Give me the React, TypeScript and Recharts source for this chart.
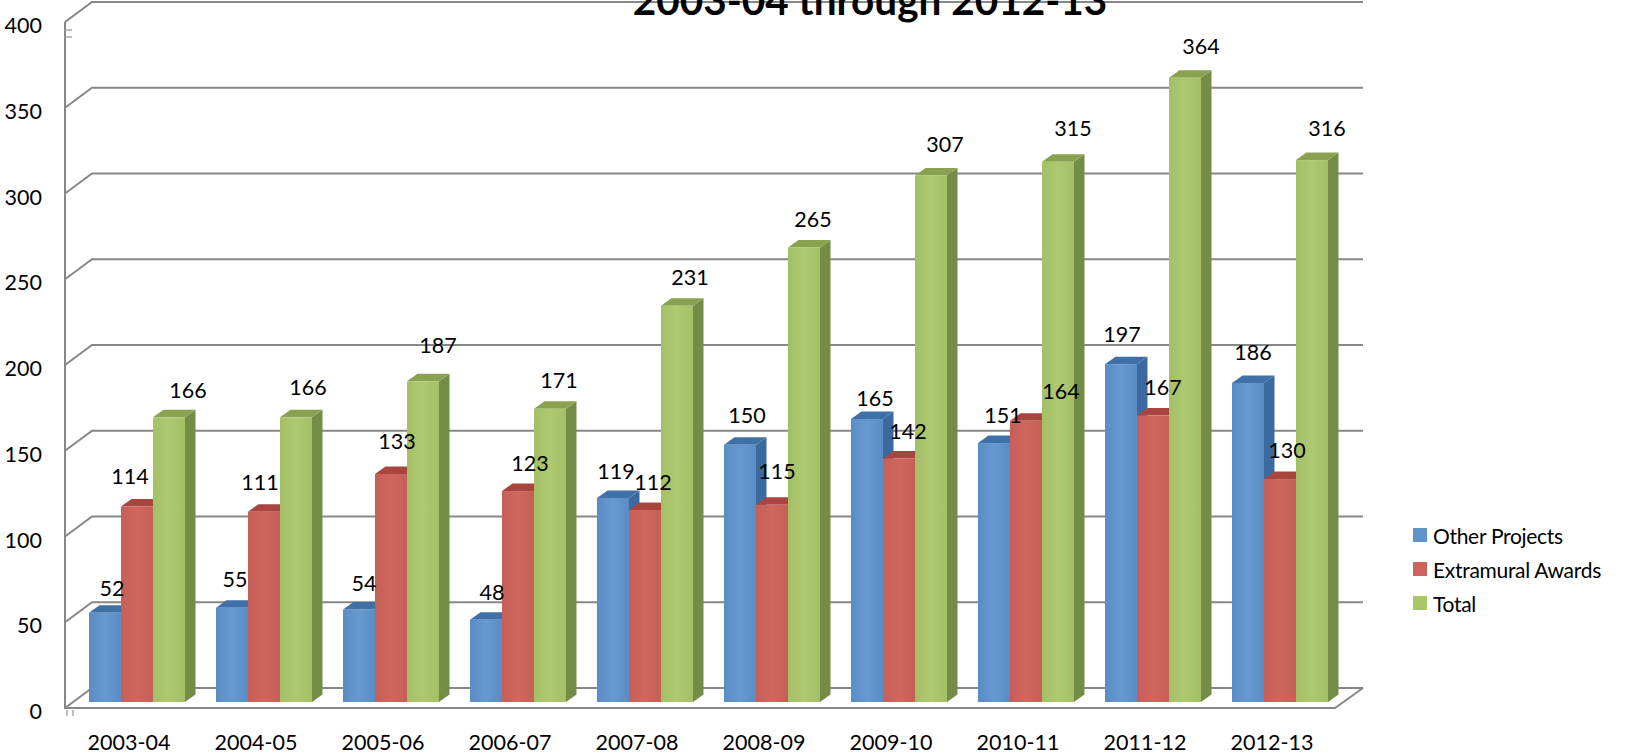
import React from "react";
import { BarChart, Bar, XAxis, YAxis, CartesianGrid, Legend, LabelList } from "recharts";

const years = ["2003-04","2004-05","2005-06","2006-07","2007-08","2008-09","2009-10","2010-11","2011-12","2012-13"];
const otherProjects = [52,55,54,48,119,150,165,151,197,186];
const extramuralAwards = [114,111,133,123,112,115,142,164,167,130];
const total = [166,166,187,171,231,265,307,315,364,316];
const yTicks = [0,50,100,150,200,250,300,350,400];

// Hand-placed data-label nudges from each bar's top-centre, as in the source chart
const otherNudge = [[7,-25],[3,-29],[5,-26],[6,-28],[3,-27],[7,-30],[8,-21],[9,-28],[1,-30],[5,-31]];
const extramuralNudge = [[-7,-30],[-4,-30],[6,-33],[12,-28],[8,-28],[5,-34],[9,-27],[35,-30],[10,-29],[7,-29]];
const totalNudge = [[19,-27],[12,-30],[15,-36],[9,-29],[13,-29],[9,-29],[14,-31],[15,-34],[16,-32],[15,-32]];

const rows = years.map((year, i) => ({ year, other: otherProjects[i], extramural: extramuralAwards[i], total: total[i] }));

const FONT = "Lato, 'Open Sans', sans-serif";
const W = 1630, H = 753;
const TOP = 16, BOTTOM = 702, LEFT = 73, RIGHT = 1343;
const DX = 10.5, DY = 7.5;
const GRID = "#878787";

const palette = {
  other: { a: "#5a8cc6", b: "#659acf", top: "#3f70a8", side: "#3b6a9f" },
  extramural: { a: "#c65f57", b: "#cf675f", top: "#a8453f", side: "#9c3f3a" },
  total: { a: "#a4c066", b: "#aec970", top: "#8aa14f", side: "#758c47" },
};

function bar3d(key: keyof typeof palette) {
  const c = palette[key];
  return (p: any) => {
    const { x, y, width, height } = p;
    return (
      <g>
        <path d={`M${x + width},${y}L${x + width + DX},${y - DY}V${y + height - DY}L${x + width},${y + height}Z`} fill={c.side} />
        <path d={`M${x},${y}L${x + DX},${y - DY}H${x + width + DX}L${x + width},${y}Z`} fill={c.top} />
        <rect x={x} y={y} width={width} height={height} fill={`url(#face-${key})`} />
      </g>
    );
  };
}

function gridLine(p: any) {
  const { x1, x2, y1, index } = p;
  const isFloor = y1 >= BOTTOM - 1;
  return (
    <g key={`g-${index}`} stroke={GRID} strokeWidth={2} fill="none">
      <path d={`M${x1 - 8},${y1 + 6}L${x1 + 19},${y1 - 14}H${x2 + 20}`} />
      {isFloor && (
        <>
          <path d={`M${x1 - 8},${TOP + 6}V${y1 + 6}H${x2 - 8}L${x2 + 20},${y1 - 14}`} />
          <path d={`M${x1 - 8},30H${x1 - 1}M${x1 - 8},37H${x1 - 1}M${x1 - 6},${y1 + 8}v6M${x1},${y1 + 8}v6`} stroke="#a8a8a8" strokeWidth={1.5} />
        </>
      )}
    </g>
  );
}

const XTick = (p: any) => (
  <text x={p.x - 7.5} y={BOTTOM + 48} textAnchor="middle" fontFamily={FONT} fontSize={21.5} fill="#000">{p.payload.value}</text>
);
const YTick = (p: any) => (
  <text x={42} y={p.y + 17} textAnchor="end" fontFamily={FONT} fontSize={21.5} fill="#000">{p.payload.value}</text>
);

function dataLabel(nudges: number[][]) {
  return (p: any) => {
    const n = nudges[p.index];
    return (
      <text x={p.x + p.width / 2 + n[0]} y={p.y + n[1] + 8} textAnchor="middle" fontFamily={FONT} fontSize={21.5} fill="#000">{p.value}</text>
    );
  };
}

const LegendBox = ({ payload }: any) => (
  <div style={{ fontFamily: FONT, fontSize: 21, letterSpacing: "-0.3px", color: "#000", whiteSpace: "nowrap" }}>
    {(payload || []).map((e: any) => (
      <div key={e.value} style={{ display: "flex", alignItems: "center", height: 34 }}>
        <span style={{ width: 14, height: 14, background: e.color, marginRight: 6, display: "inline-block" }} />
        {e.value}
      </div>
    ))}
  </div>
);

const gradients = (Object.keys(palette) as (keyof typeof palette)[]).map((k) => (
  <linearGradient key={k} id={`face-${k}`} x1="0" y1="0" x2="1" y2="0">
    <stop offset="0" stopColor={palette[k].a} />
    <stop offset="0.5" stopColor={palette[k].b} />
    <stop offset="1" stopColor={palette[k].a} />
  </linearGradient>
));

export default function App() {
  return (
    <div style={{ position: "absolute", left: 0, top: 0, width: W, height: H, overflow: "hidden", background: "#fff" }}>
      <BarChart
        width={W}
        height={H}
        data={rows}
        margin={{ top: TOP, right: W - RIGHT, bottom: 0, left: 0 }}
        barGap={0}
        barCategoryGap={16}
      >
        <defs>{gradients}</defs>
        <CartesianGrid horizontal={gridLine} vertical={false} />
        <XAxis dataKey="year" height={H - BOTTOM} axisLine={false} tickLine={false} tick={XTick} interval={0} />
        <YAxis width={LEFT} domain={[0, 400]} ticks={yTicks} axisLine={false} tickLine={false} tick={YTick} interval={0} />
        <Legend layout="vertical" align="center" verticalAlign="middle" itemSorter={null} wrapperStyle={{ left: 1413, top: 518, width: 217 }} content={LegendBox} />
        <Bar dataKey="other" name="Other Projects" fill="#5e93cc" shape={bar3d("other")} isAnimationActive={false}>
          <LabelList dataKey="other" content={dataLabel(otherNudge)} />
        </Bar>
        <Bar dataKey="extramural" name="Extramural Awards" fill="#cc645c" shape={bar3d("extramural")} isAnimationActive={false}>
          <LabelList dataKey="extramural" content={dataLabel(extramuralNudge)} />
        </Bar>
        <Bar dataKey="total" name="Total" fill="#aac66b" shape={bar3d("total")} isAnimationActive={false}>
          <LabelList dataKey="total" content={dataLabel(totalNudge)} />
        </Bar>
        <text x={870} y={15} textAnchor="middle" fontFamily={FONT} fontSize={40.5} fontWeight={700} fill="#000">2003-04 through 2012-13</text>
      </BarChart>
    </div>
  );
}
